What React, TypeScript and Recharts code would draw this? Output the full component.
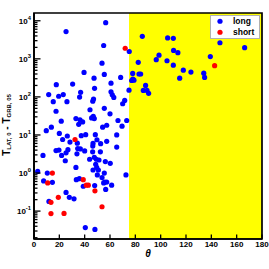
import React from 'react';
import { ScatterChart, Scatter, XAxis, YAxis, ReferenceArea, Legend } from 'recharts';

// ---- data ----
const longTheta = [
  25.3, 56.6, 55, 53.7, 39.5, 55.5, 68.4, 47.4, 30.5, 17.6, 60.8, 47.8, 36.8, 60.8, 61.8, 11.6, 23.1, 19.5, 36, 63,
  71.6, 15.2, 26, 46.4, 47, 70, 44.2, 55.5, 17.4, 60, 46.8, 45.5, 47.6, 33.1, 36.3, 38.4, 35.3, 21.5, 66.3, 73.2,
  57.4, 54.2, 69.5, 13.7, 9.7, 20, 37.3, 40.8, 48.4, 65.3, 26.3, 22.6, 28.4, 34.2, 49.7, 46.6, 46.4, 52.6, 57.4, 65.3,
  7.1, 17.4, 19.7, 21.8, 25.3, 26.8, 24.7, 34.5, 36.6, 33.9, 40, 46.3, 52.4, 43.9, 47.6, 49.2, 51.3, 56.3, 60.2, 48.7,
  49.5, 50.8, 46.6, 33.1, 2.9, 10.5, 55.5, 72.6, 7.6, 14.5, 33.4, 35.8, 50, 53.7, 55.8, 55, 57.4, 61.3, 47.9, 38.9,
  56.6, 25.3, 27.9, 31.6, 11.8, 40.5, 48.1,
  75.2, 77.9, 77.1, 78.9, 78, 82.9, 84.2, 75, 85.5, 105.5, 110, 146.8, 166.3, 110.2, 113.6, 98.7, 96.5, 105, 82.3, 110,
  139.2, 117.9, 123.9, 134, 134.7, 115, 88.1, 86.3, 89.2, 90.5,
];
const longTime = [
  5200, 8900, 2240, 770, 440, 390, 325, 310, 217, 210, 230, 168, 132, 136, 114, 115, 115, 104, 99, 97,
  81, 75, 75, 77, 88, 66, 46, 50, 42, 36, 31, 28, 27, 27, 25, 22, 19, 23, 24, 24,
  18, 16, 17, 16, 13, 11, 9.6, 10.2, 10.2, 10, 9.4, 7.6, 6.5, 6.1, 7.5, 6.0, 5.1, 5.9, 6.8, 4.8,
  2.9, 3.9, 4.0, 2.9, 3.4, 4.1, 2.1, 4.4, 4.3, 3.2, 3.8, 3.6, 3.6, 2.3, 2.6, 2.3, 2.2, 2.0, 1.8, 1.7,
  1.4, 1.2, 1.2, 1.4, 1.1, 1.0, 1.0, 0.89, 0.62, 0.57, 0.67, 0.71, 0.89, 0.76, 0.58, 0.55, 0.58, 0.48, 0.47, 0.45,
  0.37, 0.31, 0.23, 0.21, 0.18, 0.037, 0.033,
  1560, 415, 270, 275, 295, 400, 400, 150, 3900, 3550, 3450, 2650, 1960, 1660, 1450, 1250, 950, 890, 810, 680,
  1150, 505, 450, 420, 325, 310, 200, 148, 148, 124,
];
const shortTheta = [72, 142.6, 32.4, 14.5, 10.8, 38.9, 41.3, 42.9, 48.1, 19.2, 13.4, 13.4, 23.7, 53.7];
const shortTime = [1900, 660, 7.6, 1.0, 0.55, 0.67, 0.48, 0.48, 0.34, 0.23, 0.17, 0.086, 0.087, 0.13];

const xTickValues = [0, 20, 40, 60, 80, 100, 120, 140, 160, 180];
const xDomain = [0, 180];
const yDomain = [0.0185, 16000];
const yDecades = [0.01, 0.1, 1, 10, 100, 1000, 10000];
const yMultipliers = [1, 2, 3, 4, 5, 6, 7, 8, 9];
const yellowRange = [75, 180];
const seriesNames = ['long', 'short'];

const longData = longTheta.map((th, i) => ({ theta: th, t: longTime[i] }));
const shortData = shortTheta.map((th, i) => ({ theta: th, t: shortTime[i] }));

const yTicks: number[] = [];
yDecades.forEach((d) =>
  yMultipliers.forEach((m) => {
    const v = +(d * m).toPrecision(6);
    if (v >= yDomain[0] && v <= yDomain[1]) yTicks.push(v);
  })
);
const isMajor = (v: number) => {
  const l = Math.log10(v);
  return Math.abs(l - Math.round(l)) < 1e-6;
};

const FONT = '"Liberation Sans", Arial, Helvetica, sans-serif';
const BLUE = '#0000ff';
const RED = '#ff0000';
const TICK_W = 1.3;
const FRAME_W = 1.7;

const YTickLeft = (props: any) => {
  const x = Number(props.x);
  const y = Number(props.y);
  const v = props.payload.value;
  const major = isMajor(v);
  const len = major ? 6.5 : 3.5;
  return (
    <g>
      <line x1={x} x2={x + len} y1={y} y2={y} style={{ stroke: '#000', strokeWidth: TICK_W }} />
      {major && (
        <text x={x - 3} y={y + 2.8} textAnchor="end" fontFamily={FONT} fontWeight="bold" fontSize={8} fill="#000">
          10
          <tspan fontSize={5.8} dy={-4}>{String(Math.round(Math.log10(v)))}</tspan>
        </text>
      )}
    </g>
  );
};

const YTickRight = (props: any) => {
  const x = Number(props.x);
  const y = Number(props.y);
  const major = isMajor(props.payload.value);
  const len = major ? 6.5 : 3.5;
  return <line x1={x} x2={x - len} y1={y} y2={y} style={{ stroke: '#000', strokeWidth: TICK_W }} />;
};

const XTickBottom = (props: any) => {
  const x = Number(props.x);
  const y = Number(props.y);
  return (
    <g>
      <line x1={x} x2={x} y1={y} y2={y - 4.5} style={{ stroke: '#000', strokeWidth: TICK_W }} />
      <text x={x} y={y + 7.8} textAnchor="middle" fontFamily={FONT} fontWeight="bold" fontSize={8} fill="#000">
        {props.payload.value}
      </text>
    </g>
  );
};

const XTickTop = (props: any) => {
  const x = Number(props.x);
  const y = Number(props.y);
  return <line x1={x} x2={x} y1={y} y2={y + 4.5} style={{ stroke: '#000', strokeWidth: TICK_W }} />;
};

const YLabel = (props: any) => {
  const vb = props.viewBox || { x: 0, y: 13, width: 34, height: 226 };
  const cx = vb.x + 9.5;
  const cy = vb.y + vb.height / 2 - 1;
  return (
    <text
      x={cx}
      y={cy}
      transform={`rotate(-90, ${cx}, ${cy})`}
      textAnchor="middle"
      fontFamily={FONT}
      fontWeight="bold"
      fontSize={10}
      fill="#000"
    >
      T<tspan fontSize={6} dy={1.5}>LAT, 0</tspan>
      <tspan dy={-1.5}> - T</tspan>
      <tspan fontSize={6} dy={1.5}>GRB, 05</tspan>
    </text>
  );
};

const XLabel = (props: any) => {
  const vb = props.viewBox || { x: 34, y: 239, width: 228, height: 30 };
  return (
    <text
      x={vb.x + vb.width / 2}
      y={vb.y + 17.8}
      textAnchor="middle"
      fontFamily={FONT}
      fontWeight="bold"
      fontStyle="italic"
      fontSize={10}
      fill="#000"
    >
      θ
    </text>
  );
};

const renderLegend = (props: any) => {
  const payload = props.payload || [];
  return (
    <div
      style={{
        width: 50,
        height: 24,
        boxSizing: 'border-box',
        border: '1px solid #b0b0b0',
        background: '#fff',
        position: 'relative',
        fontFamily: FONT,
        fontWeight: 'bold',
        fontSize: 8.5,
        color: '#000',
      }}
    >
      {payload.map((e: any, i: number) => (
        <div
          key={i}
          style={{ position: 'absolute', left: 0, top: 0.3 + i * 10.5, height: 10.5, display: 'flex', alignItems: 'center' }}
        >
          <svg width={20} height={10.5} style={{ display: 'block' }}>
            <circle cx={9} cy={5.25} r={2.6} fill={e.color} />
          </svg>
          <span style={{ marginLeft: 2, lineHeight: '10.5px' }}>{e.value}</span>
        </div>
      ))}
    </div>
  );
};

const dot = (color: string) => (p: any) => <circle cx={p.cx} cy={p.cy} r={2.6} fill={color} />;

const axisLineStyle = { stroke: '#000', strokeWidth: FRAME_W };

export default function App() {
  return (
    <div style={{ position: 'absolute', left: 0, top: 0, width: 269, height: 269, background: '#fff' }}>
      <ScatterChart width={269} height={269} margin={{ top: 13, right: 7, bottom: 0, left: 0 }}>
        <ReferenceArea
          xAxisId="b"
          yAxisId="l"
          x1={yellowRange[0]}
          x2={yellowRange[1]}
          y1={yDomain[0]}
          y2={yDomain[1]}
          fill="#ffff00"
          fillOpacity={1}
          stroke="none"
          ifOverflow="hidden"
        />
        <XAxis
          xAxisId="b"
          type="number"
          dataKey="theta"
          domain={xDomain}
          ticks={xTickValues}
          interval={0}
          allowDataOverflow
          orientation="bottom"
          height={30}
          tickSize={0}
          tickMargin={0}
          stroke="#000"
          tickLine={false}
          axisLine={axisLineStyle}
          tick={<XTickBottom />}
          label={<XLabel />}
        />
        <XAxis
          xAxisId="t"
          type="number"
          dataKey="theta"
          domain={xDomain}
          ticks={xTickValues}
          interval={0}
          allowDataOverflow
          orientation="top"
          height={0}
          tickSize={0}
          tickMargin={0}
          stroke="#000"
          tickLine={false}
          axisLine={axisLineStyle}
          tick={<XTickTop />}
        />
        <YAxis
          yAxisId="l"
          type="number"
          dataKey="t"
          scale="log"
          domain={yDomain}
          ticks={yTicks}
          interval={0}
          allowDataOverflow
          orientation="left"
          width={34}
          tickSize={0}
          tickMargin={0}
          stroke="#000"
          tickLine={false}
          axisLine={axisLineStyle}
          tick={<YTickLeft />}
          label={<YLabel />}
        />
        <YAxis
          yAxisId="r"
          type="number"
          dataKey="t"
          scale="log"
          domain={yDomain}
          ticks={yTicks}
          interval={0}
          allowDataOverflow
          orientation="right"
          width={0}
          tickSize={0}
          tickMargin={0}
          stroke="#000"
          tickLine={false}
          axisLine={axisLineStyle}
          tick={<YTickRight />}
        />
        <Scatter
          name={seriesNames[0]}
          data={longData}
          xAxisId="b"
          yAxisId="l"
          fill={BLUE}
          shape={dot(BLUE)}
          legendType="circle"
          isAnimationActive={false}
        />
        <Scatter
          name={seriesNames[1]}
          data={shortData}
          xAxisId="b"
          yAxisId="l"
          fill={RED}
          shape={dot(RED)}
          legendType="circle"
          isAnimationActive={false}
        />
        <ReferenceArea
          xAxisId="b"
          yAxisId="l"
          x1={xDomain[0]}
          x2={xDomain[1]}
          y1={yDomain[0]}
          y2={yDomain[1]}
          fill="none"
          fillOpacity={0}
          stroke="#000"
          strokeWidth={FRAME_W}
          ifOverflow="visible"
        />
        <Legend
          layout="horizontal"
          verticalAlign="middle"
          align="center"
          content={renderLegend}
          wrapperStyle={{ position: 'absolute', top: 15, left: 210, right: 'auto', bottom: 'auto', width: 50, height: 24, margin: 0, padding: 0 }}
        />
      </ScatterChart>
    </div>
  );
}
